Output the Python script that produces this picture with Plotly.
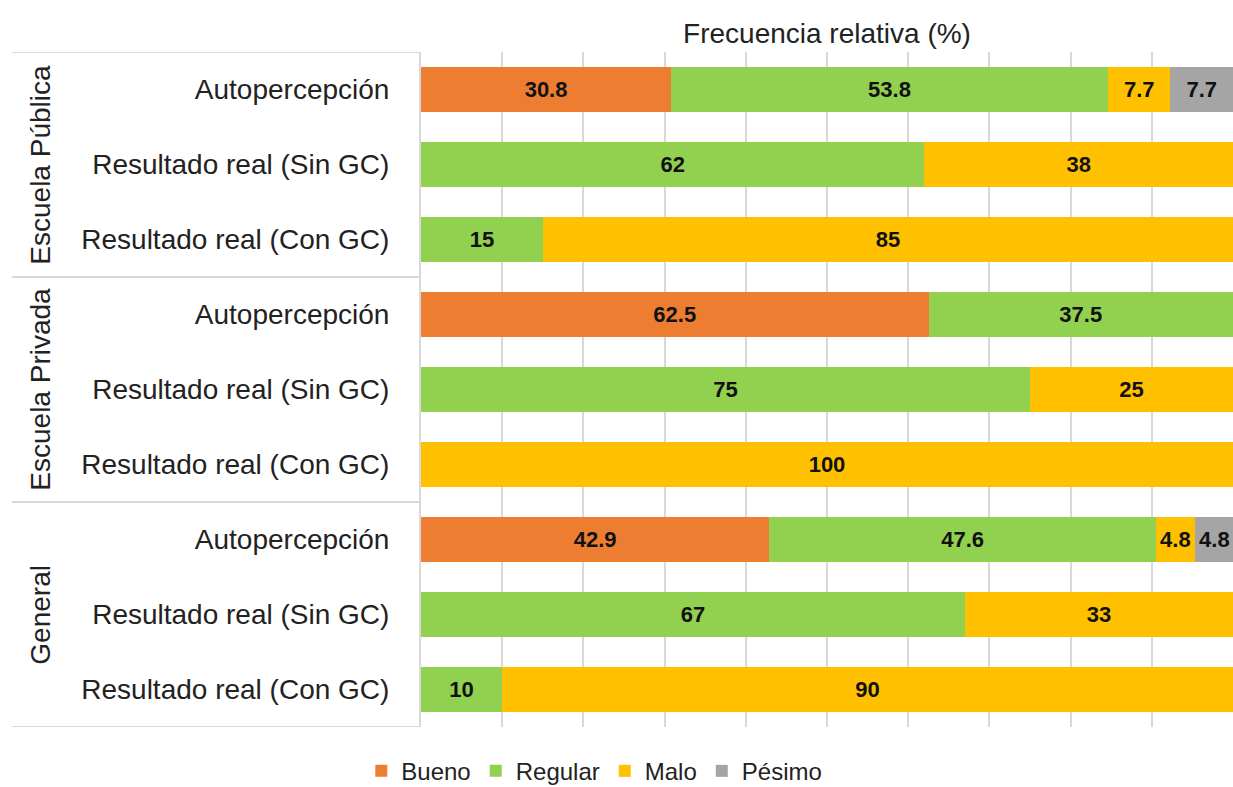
import plotly.graph_objects as go

grupos = ['Escuela Pública', 'Escuela Privada', 'General']
filas = ['Autopercepción', 'Resultado real (Sin GC)', 'Resultado real (Con GC)']

# valores por fila (de arriba hacia abajo), None = sin segmento
bueno = [30.8, None, None, 62.5, None, None, 42.9, None, None]
regular = [53.8, 62, 15, 37.5, 75, None, 47.6, 67, 10]
malo = [7.7, 38, 85, None, 25, 100, 4.8, 33, 90]
pesimo = [7.7, None, None, None, None, None, 4.8, None, None]

series = [('Bueno', bueno, '#ED7D31'), ('Regular', regular, '#92D050'),
          ('Malo', malo, '#FFC000'), ('Pésimo', pesimo, '#A5A5A5')]

etiquetas = filas * len(grupos)
pos = list(range(len(etiquetas)))
linea = '#d9d9d9'
fuente = 'Liberation Sans, Arial, sans-serif'
tam = 28

fig = go.Figure()
for nombre, vals, color in series:
    fig.add_trace(go.Bar(
        y=pos, x=vals, name=nombre, orientation='h',
        marker=dict(color=color, line=dict(width=0)),
        texttemplate='<b>%{x}</b>', textposition='inside',
        insidetextanchor='middle', constraintext='none', textangle=0,
        insidetextfont=dict(color='#111111', size=22, family=fuente),
        hoverinfo='skip'))

# etiquetas de grupo y separadores
for i, g in enumerate(grupos):
    centro = i * len(filas) + (len(filas) - 1) / 2
    fig.add_annotation(text=g, x=-0.469, xref='paper', y=centro, yref='y',
                       textangle=-90, showarrow=False, xanchor='center',
                       font=dict(size=tam, color='#222222', family=fuente))
for k in range(len(grupos) + 1):
    yk = k * len(filas) - 0.5
    fig.add_shape(type='line', xref='paper', x0=-0.504, x1=0, yref='y', y0=yk, y1=yk,
                  line=dict(color=linea, width=2))

fig.update_layout(
    barmode='stack', bargap=0.39,
    width=1233, height=787,
    margin=dict(l=421, r=0, t=52, b=60),
    paper_bgcolor='white', plot_bgcolor='white',
    font=dict(family=fuente, color='#222222'),
    title=dict(text='Frecuencia relativa (%)', x=0.5, xref='paper', y=1 - 33 / 787,
               yanchor='middle', xanchor='center',
               font=dict(size=tam, color='#222222', family=fuente)),
    legend=dict(orientation='h', xref='container', yref='container', x=0.482, y=0.02,
                xanchor='center', yanchor='middle', itemwidth=30,
                font=dict(size=24, color='#222222', family=fuente), traceorder='normal'),
)
fig.update_xaxes(range=[0, 100], dtick=10, showgrid=True, gridcolor=linea, gridwidth=2,
                 showticklabels=False, zeroline=False, showline=False, fixedrange=True)
fig.update_yaxes(tickvals=pos, ticktext=etiquetas, range=[len(pos) - 0.5, -0.5],
                 showline=True, linecolor=linea, linewidth=2, showgrid=False,
                 ticklabelstandoff=24, tickfont=dict(size=tam, color='#222222', family=fuente))

fig.write_html("out.html", config={'displayModeBar': False},
               post_script="document.body.style.margin='0';")
